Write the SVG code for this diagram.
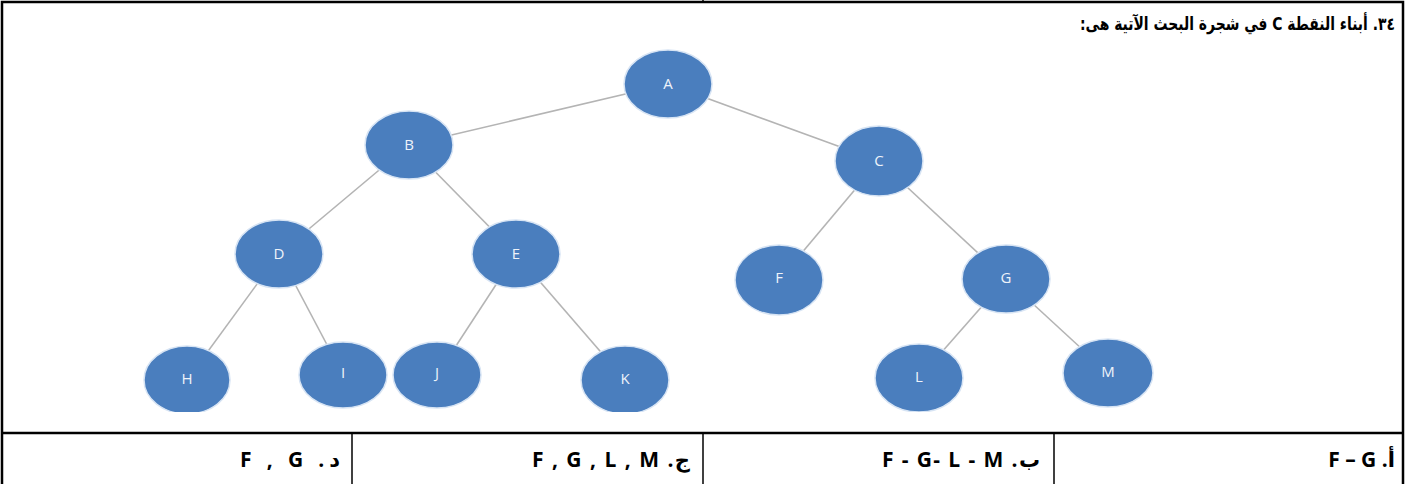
<svg xmlns="http://www.w3.org/2000/svg" width="1406" height="484" viewBox="0 0 1406 484">
<style>
.frame{stroke:#000;stroke-width:2.5;fill:none}
.cell{stroke:#000;stroke-width:1.5;fill:none}
.edge{stroke:#b4b4b4;stroke-width:1.6;fill:none}
.node ellipse{fill:#4a7ebe;stroke:#d7e4f4;stroke-width:1.5}
.node text{fill:#eef3fa;font-family:"Open Sans","Liberation Sans",sans-serif;font-size:15px;text-anchor:middle;dominant-baseline:central}
.q{font-family:"DejaVu Sans",sans-serif;font-weight:bold;font-size:18px;fill:#000}
.ans{font-family:"Open Sans","DejaVu Sans",sans-serif;font-weight:bold;font-size:21px;fill:#000}
</style>
<defs>
<clipPath id="treeclip"><rect x="4" y="40" width="1397" height="372"/></clipPath>
</defs>
<rect x="0" y="0" width="1406" height="484" fill="#fff"/>
<line class="cell" x1="703" y1="0" x2="703" y2="3"/>
<path class="frame" d="M2,484 V2 H1403 V484"/>
<line class="frame" x1="2" y1="433" x2="1403" y2="433"/>
<line class="cell" x1="352" y1="433" x2="352" y2="484"/>
<line class="cell" x1="703" y1="433" x2="703" y2="484"/>
<line class="cell" x1="1054" y1="433" x2="1054" y2="484"/>
<text class="q" x="1395" y="30" direction="rtl" unicode-bidi="embed" text-anchor="start" textLength="315" lengthAdjust="spacingAndGlyphs">٣٤. أبناء النقطة C في شجرة البحث الآتية هى:</text>
<g clip-path="url(#treeclip)">
<g id="connectors">
<line class="edge" x1="668" y1="84" x2="409" y2="145"/>
<line class="edge" x1="668" y1="84" x2="879" y2="161"/>
<line class="edge" x1="409" y1="145" x2="279" y2="254"/>
<line class="edge" x1="409" y1="145" x2="516" y2="254"/>
<line class="edge" x1="879" y1="161" x2="779" y2="280"/>
<line class="edge" x1="879" y1="161" x2="1006" y2="279"/>
<line class="edge" x1="279" y1="254" x2="187" y2="380"/>
<line class="edge" x1="279" y1="254" x2="343" y2="375"/>
<line class="edge" x1="516" y1="254" x2="437" y2="375"/>
<line class="edge" x1="516" y1="254" x2="625" y2="380"/>
<line class="edge" x1="1006" y1="279" x2="919" y2="378"/>
<line class="edge" x1="1006" y1="279" x2="1108" y2="373"/>
</g>
<g id="node-A" class="node"><ellipse cx="668" cy="84" rx="44" ry="34"/><text x="668" y="83">A</text></g>
<g id="node-B" class="node"><ellipse cx="409" cy="145" rx="44" ry="34"/><text x="409" y="144">B</text></g>
<g id="node-C" class="node"><ellipse cx="879" cy="161" rx="44" ry="35"/><text x="879" y="160">C</text></g>
<g id="node-D" class="node"><ellipse cx="279" cy="254" rx="44" ry="34"/><text x="279" y="253">D</text></g>
<g id="node-E" class="node"><ellipse cx="516" cy="254" rx="44" ry="34"/><text x="516" y="253">E</text></g>
<g id="node-F" class="node"><ellipse cx="779" cy="280" rx="44" ry="35"/><text x="779" y="277">F</text></g>
<g id="node-G" class="node"><ellipse cx="1006" cy="279" rx="44" ry="34"/><text x="1006" y="277">G</text></g>
<g id="node-H" class="node"><ellipse cx="187" cy="380" rx="43" ry="34"/><text x="187" y="378">H</text></g>
<g id="node-I" class="node"><ellipse cx="343" cy="375" rx="44" ry="33"/><text x="343" y="372">I</text></g>
<g id="node-J" class="node"><ellipse cx="437" cy="375" rx="44" ry="33"/><text x="437" y="372">J</text></g>
<g id="node-K" class="node"><ellipse cx="625" cy="380" rx="44" ry="34"/><text x="625" y="378">K</text></g>
<g id="node-L" class="node"><ellipse cx="919" cy="378" rx="44" ry="34"/><text x="919" y="376">L</text></g>
<g id="node-M" class="node"><ellipse cx="1108" cy="373" rx="45" ry="34"/><text x="1108" y="371">M</text></g>
</g>
<text class="ans" x="340" y="467" direction="rtl" unicode-bidi="embed" text-anchor="start" textLength="100" lengthAdjust="spacing">د. F , G</text>
<text class="ans" x="690" y="467" direction="rtl" unicode-bidi="embed" text-anchor="start" textLength="158" lengthAdjust="spacing">ج. F , G , L , M</text>
<text class="ans" x="1040" y="467" direction="rtl" unicode-bidi="embed" text-anchor="start" textLength="158" lengthAdjust="spacing">ب. F - G- L - M</text>
<text class="ans" x="1395" y="467" direction="rtl" unicode-bidi="embed" text-anchor="start">أ. F – G</text>
</svg>
